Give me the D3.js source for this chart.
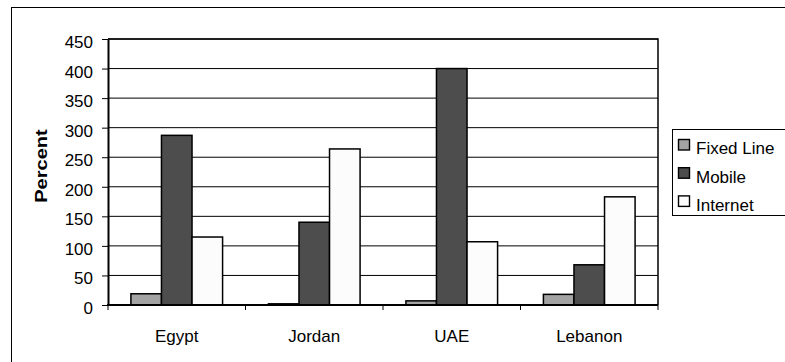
<!DOCTYPE html>
<html>
<head>
<meta charset="utf-8">
<script src="https://cdn.jsdelivr.net/npm/d3@7"></script>
<style>
  html, body { margin: 0; padding: 0; background: #fff; }
  svg { display: block; font-family: "Liberation Sans", Arial, sans-serif; }
</style>
</head>
<body>
<svg id="chart" width="785" height="362"></svg>
<script>
// Telecom penetration by country (percent)
const countries = ["Egypt", "Jordan", "UAE", "Lebanon"];
const seriesNames = ["Fixed Line", "Mobile", "Internet"];
const fixedLine = [19, 2, 7, 18];
const mobile = [287, 140, 400, 68];
const internet = [115, 264, 107, 183];
const yTicks = [0, 50, 100, 150, 200, 250, 300, 350, 400, 450];
const seriesColors = ["#a3a3a3", "#4d4d4d", "#fcfcfc"];

const FONT_SIZE = 17;

const seriesValues = [fixedLine, mobile, internet];
const rows = countries.map((c, i) => ({
  country: c,
  values: seriesNames.map((s, j) => ({ series: s, value: seriesValues[j][i], idx: j }))
}));

const svg = d3.select("#chart");

// Outer chart frame
svg.append("rect")
  .attr("x", 11.5).attr("y", 7.5)
  .attr("width", 800).attr("height", 400)
  .attr("fill", "#fff").attr("stroke", "#000").attr("stroke-width", 1);

const plot = { left: 108, top: 39, right: 658, bottom: 305 };

const x = d3.scaleBand()
  .domain(countries)
  .range([plot.left, plot.right])
  .paddingInner(0).paddingOuter(0);

// Three bars per group with a 150% gap between groups
const barW = x.bandwidth() / 4.5;
const xInner = d3.scaleBand()
  .domain(seriesNames)
  .range([barW * 0.75, barW * 3.75])
  .padding(0);

const y = d3.scaleLinear()
  .domain([0, 450])
  .range([plot.bottom, plot.top]);

// Horizontal gridlines
svg.append("g")
  .selectAll("line")
  .data(yTicks.filter(t => t > 0))
  .join("line")
  .attr("x1", plot.left).attr("x2", plot.right)
  .attr("y1", d => y(d)).attr("y2", d => y(d))
  .attr("stroke", "#000").attr("stroke-width", 1);

// Plot area border (top and right)
svg.append("path")
  .attr("d", `M${plot.left},${plot.top}H${plot.right}V${plot.bottom}`)
  .attr("fill", "none").attr("stroke", "#000").attr("stroke-width", 1.5);

// Bars
const groups = svg.append("g")
  .selectAll("g")
  .data(rows)
  .join("g")
  .attr("transform", d => `translate(${x(d.country)},0)`);

groups.selectAll("rect")
  .data(d => d.values)
  .join("rect")
  .attr("x", d => xInner(d.series))
  .attr("width", xInner.bandwidth())
  .attr("y", d => y(d.value))
  .attr("height", d => y(0) - y(d.value))
  .attr("fill", d => seriesColors[d.idx])
  .attr("stroke", "#000")
  .attr("stroke-width", 1.5);

// Y axis
const yAxis = svg.append("g")
  .attr("transform", `translate(${plot.left},0)`)
  .call(d3.axisLeft(y).tickValues(yTicks).tickSize(6).tickPadding(9).tickSizeOuter(0));
yAxis.select(".domain").attr("stroke", "#000").attr("stroke-width", 2);
yAxis.selectAll(".tick line").attr("stroke", "#000").attr("stroke-width", 1);
yAxis.selectAll(".tick text")
  .attr("x", -15)
  .attr("dy", "0.5em")
  .attr("font-family", "Liberation Sans, Arial, sans-serif")
  .attr("font-size", FONT_SIZE).attr("fill", "#000");

// X axis with ticks between categories
const xAxis = svg.append("g")
  .attr("transform", `translate(0,${plot.bottom})`);
xAxis.append("line")
  .attr("x1", plot.left - 1).attr("x2", plot.right)
  .attr("y1", 0).attr("y2", 0)
  .attr("stroke", "#000").attr("stroke-width", 2);
xAxis.selectAll("line.sep")
  .data(countries)
  .join("line")
  .attr("class", "sep")
  .attr("x1", d => x(d) + x.bandwidth()).attr("x2", d => x(d) + x.bandwidth())
  .attr("y1", 0).attr("y2", 5)
  .attr("stroke", "#000").attr("stroke-width", 1);
xAxis.append("line")
  .attr("x1", plot.left).attr("x2", plot.left)
  .attr("y1", 0).attr("y2", 5)
  .attr("stroke", "#000").attr("stroke-width", 1);
xAxis.selectAll("text")
  .data(countries)
  .join("text")
  .attr("x", d => x(d) + x.bandwidth() / 2)
  .attr("y", 37)
  .attr("text-anchor", "middle")
  .attr("font-size", FONT_SIZE)
  .attr("fill", "#000")
  .text(d => d);

// Y axis title
svg.append("text")
  .attr("transform", `translate(47,166) rotate(-90) scale(1.18,1)`)
  .attr("text-anchor", "middle")
  .attr("font-size", FONT_SIZE)
  .attr("font-weight", "bold")
  .text("Percent");

// Legend
const legend = svg.append("g").attr("transform", "translate(672.5,129.5)");
legend.append("rect")
  .attr("width", 120).attr("height", 86)
  .attr("fill", "#fff").attr("stroke", "#000").attr("stroke-width", 1);
const items = legend.selectAll("g.item")
  .data(seriesNames)
  .join("g")
  .attr("class", "item")
  .attr("transform", (d, i) => `translate(0,${10 + i * 28.2})`);
items.append("rect")
  .attr("x", 6).attr("y", 0)
  .attr("width", 11).attr("height", 10.5)
  .attr("fill", (d, i) => seriesColors[i])
  .attr("stroke", "#000").attr("stroke-width", 1.4);
items.append("text")
  .attr("x", 23.5).attr("y", 14.8)
  .attr("font-size", FONT_SIZE)
  .attr("fill", "#000")
  .text(d => d);
</script>
</body>
</html>
